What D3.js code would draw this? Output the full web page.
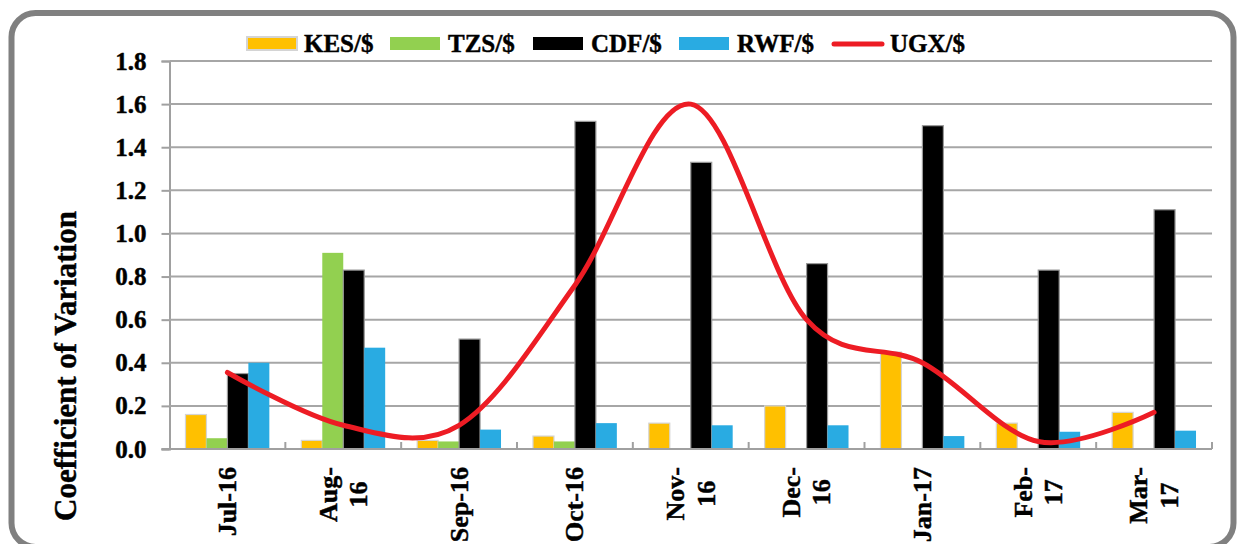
<!DOCTYPE html>
<html>
<head>
<meta charset="utf-8">
<script src="https://cdn.jsdelivr.net/npm/d3@7"></script>
<style>
  html, body { margin: 0; padding: 0; background: #ffffff; }
  svg { display: block; }
  text { font-family: "Liberation Serif", "Times New Roman", serif; font-weight: bold; fill: #000; stroke: #000; stroke-width: 0.45px; }
</style>
</head>
<body>
<svg id="chart" width="1237" height="544"></svg>
<script>
// Monthly coefficient of variation of East African exchange rates against the US dollar
const months = ["Jul-16", "Aug-\n16", "Sep-16", "Oct-16", "Nov-\n16", "Dec-\n16", "Jan-17", "Feb-\n17", "Mar-\n17"];
const seriesNames = ["KES/$", "TZS/$", "CDF/$", "RWF/$"];
const lineName = "UGX/$";

const kes = [0.16, 0.04, 0.04, 0.06, 0.12, 0.20, 0.45, 0.12, 0.17];
const tzs = [0.05, 0.91, 0.035, 0.035, null, null, null, null, null];
const cdf = [0.35, 0.83, 0.51, 1.52, 1.33, 0.86, 1.50, 0.83, 1.11];
const rwf = [0.40, 0.47, 0.09, 0.12, 0.11, 0.11, 0.06, 0.08, 0.085];
const ugx = [0.355, 0.11, 0.11, 0.76, 1.60, 0.60, 0.40, 0.035, 0.17];

const yTicks = [0, 0.2, 0.4, 0.6, 0.8, 1.0, 1.2, 1.4, 1.6, 1.8];
const yTitle = "Coefficient of Variation";

const barValues = [kes, tzs, cdf, rwf];
const barColors = ["#FFC000", "#92D050", "#000000", "#29ABE2"];
const barStrokes = ["#d4d4d4", "none", "#9a9a9a", "none"];
const lineColor = "#ED1C24";

const svg = d3.select("#chart");

// rounded frame around the whole chart (bottom edge runs just past the canvas)
svg.append("rect")
  .attr("x", 11.5).attr("y", 13)
  .attr("width", 1222).attr("height", 534)
  .attr("rx", 24).attr("ry", 24)
  .attr("fill", "#ffffff")
  .attr("stroke", "#808080")
  .attr("stroke-width", 6);

const plot = { left: 169.5, right: 1212, top: 61, bottom: 449 };

const x = d3.scaleBand()
  .domain(d3.range(months.length))
  .range([plot.left, plot.right])
  .paddingInner(0.276)
  .paddingOuter(0.138);

const xs = d3.scaleBand()
  .domain(d3.range(seriesNames.length))
  .range([0, x.bandwidth()])
  .padding(0);

const y = d3.scaleLinear().domain([0, 1.8]).range([plot.bottom, plot.top]);

// y axis with outward ticks
const yAxis = svg.append("g")
  .attr("transform", `translate(${plot.left},0)`)
  .call(d3.axisLeft(y).tickValues(yTicks).tickFormat(d3.format(".1f"))
    .tickSize(8).tickPadding(15));
yAxis.select(".domain").attr("stroke", "#a0a0a0").attr("stroke-width", 2);
yAxis.selectAll(".tick line").attr("stroke", "#a0a0a0").attr("stroke-width", 2);
yAxis.selectAll(".tick text")
  .attr("font-size", 25)
  .attr("fill", "#000");

// horizontal gridlines
svg.append("g")
  .selectAll("line")
  .data(yTicks.filter(d => d > 0))
  .join("line")
  .attr("x1", plot.left).attr("x2", plot.right)
  .attr("y1", d => y(d)).attr("y2", d => y(d))
  .attr("stroke", "#a6a6a6")
  .attr("stroke-width", 2);

// clustered bars
const barLayer = svg.append("g");
barValues.forEach((vals, s) => {
  barLayer.append("g")
    .selectAll("rect")
    .data(vals.map((v, i) => ({ v, i })).filter(d => d.v != null))
    .join("rect")
    .attr("x", d => x(d.i) + xs(s))
    .attr("y", d => y(d.v))
    .attr("width", xs.bandwidth())
    .attr("height", d => y(0) - y(d.v))
    .attr("fill", barColors[s])
    .attr("stroke", barStrokes[s])
    .attr("stroke-width", barStrokes[s] === "none" ? 0 : 1.2);
});

// x axis baseline with inward category separators
const xAxis = svg.append("g");
xAxis.append("line")
  .attr("x1", plot.left - 8).attr("x2", plot.right)
  .attr("y1", y(0)).attr("y2", y(0))
  .attr("stroke", "#a0a0a0").attr("stroke-width", 2);
const step = x.step();
xAxis.selectAll("line.sep")
  .data(d3.range(1, months.length + 1))
  .join("line")
  .attr("class", "sep")
  .attr("x1", i => plot.left + i * step).attr("x2", i => plot.left + i * step)
  .attr("y1", y(0)).attr("y2", y(0) - 7)
  .attr("stroke", "#a0a0a0").attr("stroke-width", 2);

// rotated category labels, wrapped lines centred on the longest one
const labelTop = 467;
const lineGap = 30.5;
months.forEach((m, i) => {
  const cx = x(i) + x.bandwidth() / 2;
  const lines = m.split("\n");
  const g = svg.append("g").attr("transform", `translate(${cx},${labelTop}) rotate(-90)`);
  const texts = lines.map((ln, k) => g.append("text")
    .attr("font-size", 26)
    .attr("text-anchor", "middle")
    .attr("y", 8.5 - (lineGap / 2) * (lines.length - 1) + lineGap * k)
    .text(ln));
  const maxW = d3.max(texts, t => t.node().getComputedTextLength());
  texts.forEach(t => t.attr("x", -maxW / 2));
});

// UGX/$ smoothed line through category centres
const line = d3.line()
  .x((d, i) => x(i) + x.bandwidth() / 2)
  .y(d => y(d))
  .curve(d3.curveCardinal.tension(0));
svg.append("path")
  .datum(ugx)
  .attr("d", line)
  .attr("fill", "none")
  .attr("stroke", lineColor)
  .attr("stroke-width", 5)
  .attr("stroke-linecap", "round");

// y axis title
svg.append("text")
  .attr("transform", "translate(76,366) rotate(-90)")
  .attr("text-anchor", "middle")
  .attr("font-size", 31)
  .text(yTitle);

// legend
const legendItems = [
  { name: seriesNames[0], color: barColors[0], x: 247, tx: 304, kind: "rect", stroke: "#d4d4d4" },
  { name: seriesNames[1], color: barColors[1], x: 390, tx: 448, kind: "rect" },
  { name: seriesNames[2], color: barColors[2], x: 533, tx: 591, kind: "rect" },
  { name: seriesNames[3], color: barColors[3], x: 679, tx: 737, kind: "rect" },
  { name: lineName, color: lineColor, x: 832, tx: 890, kind: "line" }
];
const legend = svg.append("g");
legendItems.forEach(it => {
  if (it.kind === "rect") {
    legend.append("rect")
      .attr("x", it.x).attr("y", 37)
      .attr("width", 50).attr("height", 13)
      .attr("fill", it.color)
      .attr("stroke", it.stroke || "none")
      .attr("stroke-width", it.stroke ? 2 : 0);
  } else {
    legend.append("line")
      .attr("x1", it.x + 2).attr("x2", it.x + 50)
      .attr("y1", 44).attr("y2", 44)
      .attr("stroke", it.color).attr("stroke-width", 5)
      .attr("stroke-linecap", "round");
  }
  legend.append("text")
    .attr("x", it.tx).attr("y", 52)
    .attr("font-size", 25)
    .text(it.name);
});
</script>
</body>
</html>
